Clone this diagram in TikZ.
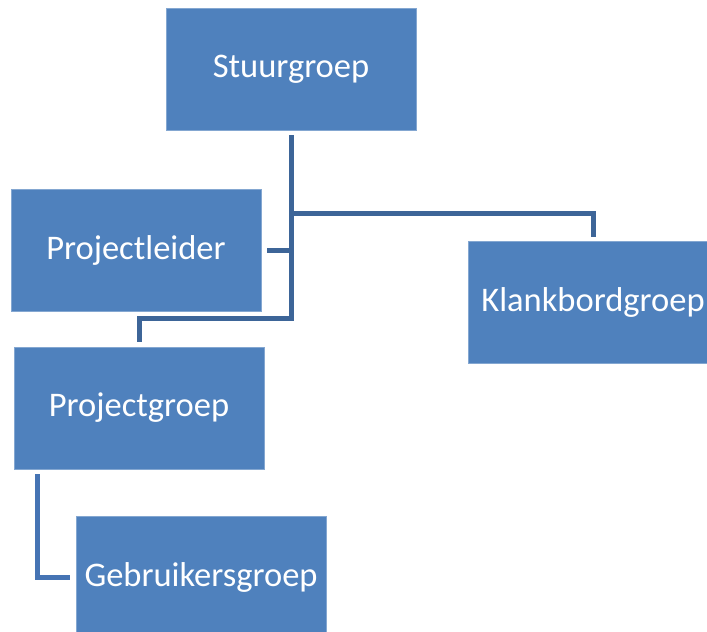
\documentclass[tikz,border=0pt]{standalone}
\usepackage{fontspec}
\setmainfont{Carlito}
\usetikzlibrary{calc}
\definecolor{boxblue}{HTML}{4F81BD}
\definecolor{lineblue}{HTML}{3D6598}
\definecolor{lineblueb}{HTML}{4674B4}
\tikzset{
	myblockorg/.style={rectangle, fill=boxblue, draw=boxblue!70!white, line width=0.8pt,
				minimum width=250pt, minimum height=122pt, inner sep=0pt,
				text centered, align=center, font=\fontsize{34.5}{40}\selectfont, text=white
				},
	mylink/.style={-, lineblue, line width=5pt, line cap=butt, line join=miter
				},
	mylinkb/.style={mylink, lineblueb
				}
	}

\begin{document}
\begin{tikzpicture}[x=1pt, y=-1pt]

				\useasboundingbox (0,0) rectangle (707,632);
				\clip (0,0) rectangle (707,632);

				\node[myblockorg] (stuur) at (291,69) {Stuurgroep};
				
				\node[myblockorg] (leider) at ($(stuur) + (-155,181)$) {Projectleider};
				
				\node[myblockorg] (klank) at ($(stuur) + (302,233)$) {Klankbordgroep};
				
				\node[myblockorg] (projgroep) at ($(leider) + (3,158)$) {Projectgroep};
				
				\node[myblockorg] (gebruik) at ($(projgroep) + (62,169)$) {Gebruikersgroep};
				
				\coordinate (splitk) at ($(stuur.south) + (0,83)$);
				\coordinate (splitp) at ($(stuur.south) + (0,188)$);

				\draw[mylink] ([yshift=-5pt]stuur.south) -- (splitp) -| ([yshift=5pt]projgroep.north);
				
				\draw[mylink] (splitk) -| ([yshift=4pt]klank.north);
				
				\draw[mylink] ([xshift=6pt]leider.east) -- (leider.east -| splitk);
				
				\draw[mylinkb] ([xshift=24pt, yshift=-5pt]projgroep.south west) |- ([xshift=-6pt]gebruik.west);

\end{tikzpicture}
\end{document}
